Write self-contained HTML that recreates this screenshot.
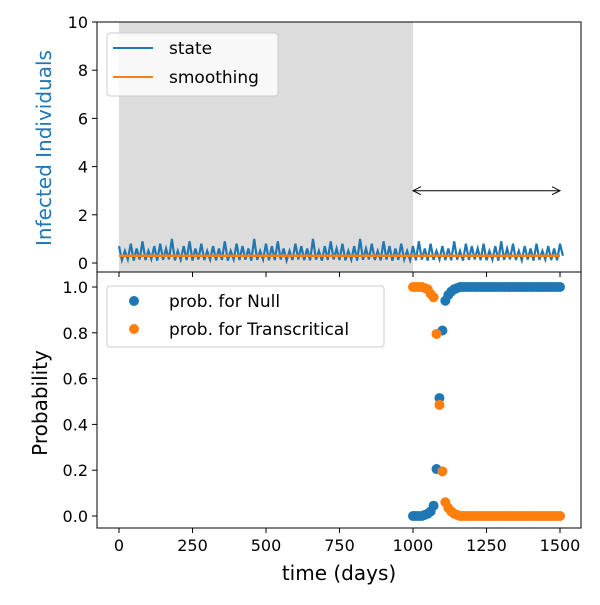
<!DOCTYPE html>
<html><head><meta charset="utf-8"><style>
body{margin:0;background:#fff}
svg{font-family:"DejaVu Sans","Liberation Sans",sans-serif}
</style></head><body>
<svg id="chart" width="600" height="600" viewBox="0 0 600 600">
<rect width="600" height="600" fill="#fff"/>
<g id="topPanel"></g>
<g id="botPanel"></g>
</svg>
<script>
const xTicks=[0,250,500,750,1000,1250,1500];
const topYTicks=[0,2,4,6,8,10];
const botYTicks=[0.0,0.2,0.4,0.6,0.8,1.0];
const botYLabels=["0.0","0.2","0.4","0.6","0.8","1.0"];
const stateStep=10;
const stateValues=[0.7,0.12,0.5,0.15,0.8,0.1,0.6,0.14,0.9,0.12,0.5,0.16,0.7,0.1,0.8,0.13,0.6,0.15,1.0,0.11,0.5,0.14,0.7,0.12,0.9,0.1,0.6,0.15,0.8,0.12,0.5,0.14,0.7,0.11,0.6,0.13,0.9,0.1,0.5,0.15,0.8,0.12,0.7,0.14,0.6,0.1,1.0,0.13,0.5,0.15,0.8,0.11,0.7,0.12,0.9,0.14,0.6,0.1,0.5,0.13,0.8,0.15,0.7,0.12,0.6,0.11,1.0,0.14,0.5,0.1,0.7,0.13,0.9,0.15,0.6,0.12,0.8,0.11,0.5,0.14,0.7,0.1,1.0,0.13,0.6,0.15,0.8,0.12,0.5,0.11,0.9,0.14,0.7,0.1,0.6,0.13,0.8,0.15,0.5,0.12,0.7,0.11,0.9,0.14,0.6,0.1,0.8,0.13,0.5,0.15,0.7,0.12,0.6,0.11,0.9,0.14,0.5,0.1,0.8,0.13,0.7,0.15,0.6,0.12,0.8,0.11,0.5,0.14,0.7,0.1,0.9,0.13,0.6,0.15,0.8,0.12,0.5,0.11,0.7,0.14,0.6,0.1,0.8,0.13,0.5,0.15,0.7,0.12,0.6,0.11,0.8,0.3];
const smoothingValue=0.3;
const probDays=[1000,1010,1020,1030,1040,1050,1060,1070,1080,1090,1100,1110,1120,1130,1140,1150,1160,1170,1180,1190,1200,1210,1220,1230,1240,1250,1260,1270,1280,1290,1300,1310,1320,1330,1340,1350,1360,1370,1380,1390,1400,1410,1420,1430,1440,1450,1460,1470,1480,1490,1500];
const probNull=[0,0,0,0,0.005,0.01,0.02,0.045,0.205,0.515,0.81,0.94,0.965,0.98,0.99,0.995,1,1,1,1,1,1,1,1,1,1,1,1,1,1,1,1,1,1,1,1,1,1,1,1,1,1,1,1,1,1,1,1,1,1,1];
const probTrans=[1,1,1,1,0.995,0.99,0.97,0.955,0.795,0.485,0.195,0.06,0.035,0.02,0.01,0.005,0,0,0,0,0,0,0,0,0,0,0,0,0,0,0,0,0,0,0,0,0,0,0,0,0,0,0,0,0,0,0,0,0,0,0];

const NS="http://www.w3.org/2000/svg";
const X0=97,X1=581;
const xs=d=>119+(d/1500)*441;
const ysTop=v=>263-v*24.1;
const ysBot=v=>516-v*229;
function mk(parent,tag,attrs,text){const e=document.createElementNS(NS,tag);for(const k in attrs)e.setAttribute(k,attrs[k]);if(text!==undefined)e.textContent=text;parent.appendChild(e);return e;}
const topG=document.getElementById('topPanel'),botG=document.getElementById('botPanel');

let r=mk(topG,'rect',{x:xs(0),y:22,width:xs(1000)-xs(0),height:250,fill:'#dcdcdc'});


let pts=stateValues.map((v,i)=>xs(i*stateStep).toFixed(1)+','+ysTop(v).toFixed(1)).join(' ');
let pl=mk(topG,'polyline',{points:pts,fill:'none',stroke:'#1f77b4','stroke-width':2.2,'stroke-linejoin':'miter'});


let sm=mk(topG,'line',{x1:xs(0),x2:xs(1500),y1:ysTop(smoothingValue),y2:ysTop(smoothingValue),stroke:'#ff7f0e','stroke-width':2.5});


let ar=mk(topG,'g',{});


mk(ar,'line',{x1:xs(1000)+1,x2:xs(1500)-1,y1:ysTop(3),y2:ysTop(3),stroke:'#000','stroke-width':1});
mk(ar,'path',{d:`M${xs(1000)+8},${ysTop(3)-4} L${xs(1000)},${ysTop(3)} L${xs(1000)+8},${ysTop(3)+4}`,fill:'none',stroke:'#000'});
mk(ar,'path',{d:`M${xs(1500)-8},${ysTop(3)-4} L${xs(1500)},${ysTop(3)} L${xs(1500)-8},${ysTop(3)+4}`,fill:'none',stroke:'#000'});
topYTicks.forEach(t=>{const y=ysTop(t);mk(topG,'line',{x1:X0-5,x2:X0,y1:y,y2:y,stroke:'#000'});
 const l=mk(topG,'text',{x:X0-9,y:y+6,'font-size':16,'text-anchor':'end'},String(t));
 
 });
xTicks.forEach(t=>{mk(topG,'line',{x1:xs(t),x2:xs(t),y1:272,y2:277,stroke:'#000'});});
mk(topG,'rect',{x:X0,y:22,width:X1-X0,height:250,fill:'none',stroke:'#000','stroke-width':1});
let yl=mk(topG,'text',{x:0,y:0,'font-size':20,fill:'#1f77b4','text-anchor':'middle',transform:'translate(51,148) rotate(-90)'},'Infected Individuals');


let lg=mk(topG,'g',{});


mk(lg,'rect',{x:107,y:33,width:171,height:63,rx:3,fill:'#fff','fill-opacity':0.8,stroke:'#ccc'});
mk(lg,'line',{x1:113,x2:153,y1:48,y2:48,stroke:'#1f77b4','stroke-width':2});
mk(lg,'text',{x:169,y:54,'font-size':17},'state');
mk(lg,'line',{x1:113,x2:153,y1:77,y2:77,stroke:'#ff7f0e','stroke-width':2});
mk(lg,'text',{x:169,y:83,'font-size':17},'smoothing');

probDays.forEach((d,i)=>{const c=mk(botG,'circle',{cx:xs(d),cy:ysBot(probNull[i]),r:5,fill:'#1f77b4'});
 
 });
probDays.forEach((d,i)=>{const c=mk(botG,'circle',{cx:xs(d),cy:ysBot(probTrans[i]),r:5,fill:'#ff7f0e'});
 
 });
botYTicks.forEach((t,i)=>{const y=ysBot(t);mk(botG,'line',{x1:X0-5,x2:X0,y1:y,y2:y,stroke:'#000'});
 const l=mk(botG,'text',{x:X0-9,y:y+6,'font-size':16,'text-anchor':'end'},botYLabels[i]);
 
 });
xTicks.forEach(t=>{mk(botG,'line',{x1:xs(t),x2:xs(t),y1:528,y2:533,stroke:'#000'});
 const l=mk(botG,'text',{x:xs(t),y:551,'font-size':16,'text-anchor':'middle'},String(t));
 
 });
mk(botG,'rect',{x:X0,y:272,width:X1-X0,height:256,fill:'none',stroke:'#000','stroke-width':1});
let xl=mk(botG,'text',{x:339,y:580,'font-size':20,'text-anchor':'middle'},'time (days)');


let yl2=mk(botG,'text',{x:0,y:0,'font-size':20,'text-anchor':'middle',transform:'translate(47,403) rotate(-90)'},'Probability');


let lg2=mk(botG,'g',{});


mk(lg2,'rect',{x:107,y:286,width:277,height:61,rx:3,fill:'#fff','fill-opacity':0.8,stroke:'#ccc'});
mk(lg2,'circle',{cx:134,cy:301,r:5,fill:'#1f77b4'});
mk(lg2,'text',{x:169,y:307,'font-size':17},'prob. for Null');
mk(lg2,'circle',{cx:134,cy:329,r:5,fill:'#ff7f0e'});
mk(lg2,'text',{x:169,y:335,'font-size':17},'prob. for Transcritical');
</script>
</body></html>
